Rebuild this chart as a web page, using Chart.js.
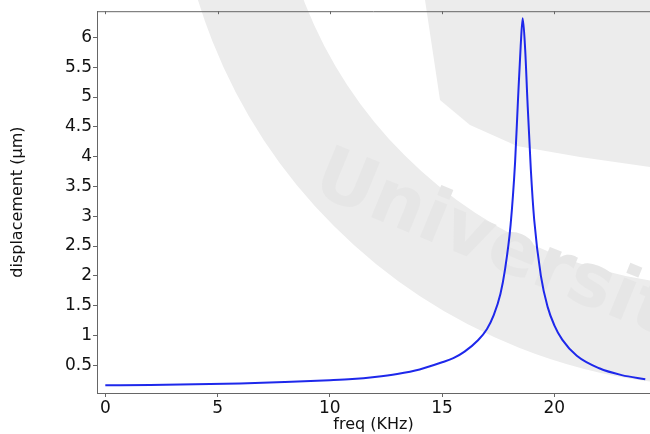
<!DOCTYPE html>
<html>
<head>
<meta charset="utf-8">
<script src="https://cdn.jsdelivr.net/npm/chart.js@4/dist/chart.umd.min.js"></script>
<style>
  html, body { margin: 0; padding: 0; background: #fff; }
  #wrap { width: 650px; height: 434px; }
</style>
</head>
<body>
<div id="wrap"><canvas id="myChart" width="650" height="434"></canvas></div>
<script>
// values
const freq = [0, 2, 4, 6, 8, 10, 11, 12, 13, 14, 15, 15.5, 16, 16.6, 17, 17.3, 17.6, 17.8, 18.05, 18.25, 18.38, 18.5, 18.59,
  18.7, 18.8, 18.95, 19.1, 19.4, 19.7, 20, 20.35, 21, 22, 23, 24.05];
const disp = [0.165, 0.17, 0.18, 0.195, 0.22, 0.25, 0.27, 0.305, 0.355, 0.43, 0.55, 0.62, 0.73, 0.92, 1.11, 1.34, 1.7, 2.1, 2.85, 3.9, 4.95, 5.85, 6.32,
  5.8, 4.95, 3.8, 2.95, 2.0, 1.48, 1.17, 0.93, 0.66, 0.45, 0.335, 0.265];
const xTicks = [0, 5, 10, 15, 20];
const yTicks = [0.5, 1, 1.5, 2, 2.5, 3, 3.5, 4, 4.5, 5, 5.5, 6];

const font = 'DejaVu Sans';

// grey watermark behind the plot
const watermark = {
  id: 'watermark',
  beforeDraw(chart) {
    const c = chart.ctx;
    c.save();
    c.fillStyle = '#fff';
    c.fillRect(0, 0, chart.width, chart.height);
    c.strokeStyle = '#ececec';
    c.lineWidth = 100;
    c.beginPath();
    c.arc(720, -160, 496, 0, Math.PI);
    c.stroke();
    c.fillStyle = '#ececec';
    c.beginPath();
    c.moveTo(425, 0);
    c.lineTo(650, 0);
    c.lineTo(650, 167);
    c.lineTo(580, 157);
    c.lineTo(517, 146);
    c.lineTo(470, 125);
    c.lineTo(440, 100);
    c.closePath();
    c.fill();
    c.translate(310, 192);
    c.rotate(0.39);
    c.fillStyle = '#e6e6e6';
    c.font = 'bold 74px "DejaVu Sans"';
    c.fillText('Universit', 0, 0);
    c.restore();
  }
};

// top frame line with small inward ticks
const topFrame = {
  id: 'topFrame',
  afterDraw(chart) {
    const c = chart.ctx, a = chart.chartArea, xs = chart.scales.x;
    c.save();
    c.strokeStyle = '#666';
    c.lineWidth = 1;
    c.beginPath();
    c.moveTo(a.left, a.top + 0.5);
    c.lineTo(a.right, a.top + 0.5);
    xTicks.forEach(v => {
      const px = Math.round(xs.getPixelForValue(v)) + 0.5;
      c.moveTo(px, a.top);
      c.lineTo(px, a.top + 3);
    });
    c.stroke();
    c.restore();
  }
};

const ctx = document.getElementById('myChart');
const myChart = new Chart(ctx, {
  type: 'line',
  data: {
    datasets: [{
      data: freq.map((f, i) => ({ x: f, y: disp[i] })),
      borderColor: 'rgb(30,40,235)',
      borderWidth: 2,
      pointRadius: 0,
      cubicInterpolationMode: 'monotone',
      fill: false
    }]
  },
  options: {
    responsive: false,
    animation: false,
    layout: { padding: { top: 11, right: 0, left: 0, bottom: 0 } },
    plugins: { legend: { display: false }, tooltip: { enabled: false } },
    scales: {
      x: {
        type: 'linear',
        min: -0.37,
        max: 24.26,
        afterBuildTicks: s => { s.ticks = xTicks.map(v => ({ value: v })); },
        afterFit: s => { s.height = 41; },
        grid: { drawOnChartArea: false, tickLength: 4, color: '#666' },
        border: { color: '#666', width: 1 },
        ticks: { color: '#111', padding: 1, font: { family: font, size: 17 }, maxRotation: 0,
          callback: v => String(v) },
        title: {
          display: true, text: 'freq (KHz)', color: '#111',
          font: { family: font, size: 16, lineHeight: 1.2 },
          padding: { top: 0, bottom: 0 }
        }
      },
      y: {
        min: 0.035,
        max: 6.44,
        afterBuildTicks: s => { s.ticks = yTicks.map(v => ({ value: v })); },
        afterFit: s => { s.width = 97; },
        grid: { drawOnChartArea: false, tickLength: 4, color: '#666' },
        border: { color: '#666', width: 1 },
        ticks: { color: '#111', padding: 1, font: { family: font, size: 17 },
          callback: v => String(v) },
        title: {
          display: true, text: 'displacement (µm)', color: '#111',
          font: { family: font, size: 16, lineHeight: 1.2 },
          padding: { top: 8, bottom: 0 }
        }
      }
    }
  },
  plugins: [watermark, topFrame]
});
</script>
</body>
</html>
